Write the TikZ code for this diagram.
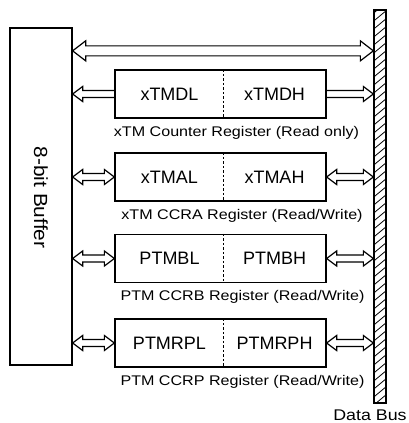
\documentclass[tikz,border=0pt]{standalone}
\usepackage{fontspec}
\setmainfont{Liberation Sans}
\newfontfamily\lblfont[FakeStretch=1.15]{Liberation Sans}
\newfontfamily\buffont[FakeStretch=1.1]{Liberation Sans}
\usetikzlibrary{calc}
% hollow block arrows: #1 left point, #2 right point, #3 half shaft, #4 half head, #5 head length
\newcommand\ArrBoth[5]{\draw[arrowline] let \p1=#1, \p2=#2 in
  (\x1,\y1) -- (\x1+#5pt,\y1+#4pt) -- (\x1+#5pt,\y1+#3pt) -- (\x2-#5pt,\y1+#3pt) -- (\x2-#5pt,\y1+#4pt)
  -- (\x2,\y1) -- (\x2-#5pt,\y1-#4pt) -- (\x2-#5pt,\y1-#3pt) -- (\x1+#5pt,\y1-#3pt) -- (\x1+#5pt,\y1-#4pt) -- cycle;}
\newcommand\ArrLeft[5]{\draw[arrowline] let \p1=#1, \p2=#2 in
  (\x2,\y1+#3pt) -- (\x1+#5pt,\y1+#3pt) -- (\x1+#5pt,\y1+#4pt) -- (\x1,\y1)
  -- (\x1+#5pt,\y1-#4pt) -- (\x1+#5pt,\y1-#3pt) -- (\x2,\y1-#3pt);}
\newcommand\ArrRight[5]{\draw[arrowline] let \p1=#1, \p2=#2 in
  (\x1,\y1+#3pt) -- (\x2-#5pt,\y1+#3pt) -- (\x2-#5pt,\y1+#4pt) -- (\x2,\y1)
  -- (\x2-#5pt,\y1-#4pt) -- (\x2-#5pt,\y1-#3pt) -- (\x1,\y1-#3pt);}
\begin{document}
\begin{tikzpicture}[x=1pt,y=-1pt,
  regbox/.style={draw, line width=1.3pt, minimum width=211pt, minimum height=48pt, inner sep=0pt},
  buffbox/.style={draw, line width=1.3pt, minimum width=62pt, minimum height=337pt, inner sep=0pt},
  busbox/.style={draw, line width=1.3pt, minimum width=12pt, minimum height=393pt, inner sep=0pt},
  regtxt/.style={inner sep=0pt, font=\fontsize{18}{20}\selectfont},
  lbl/.style={inner sep=0pt, anchor=base, font=\lblfont\fontsize{14}{16}\selectfont},
  divider/.style={line width=1.1pt, dash pattern=on 2.5pt off 2pt},
  arrowline/.style={line width=1.2pt, line join=miter},
  hatch/.style={line width=0.8pt}]
\useasboundingbox (0,0) rectangle (409,423);
\fill[white] (0,0) rectangle (409,423);

% buffer
\node[buffbox] (buf) at (41,196.5) {};
\node[inner sep=0pt, rotate=-90, font=\buffont\fontsize{19}{21}\selectfont] (buft) at (41,197.5) {8-bit Buffer};

% data bus
\node[busbox] (bus) at (380,206.5) {};
\begin{scope}
  \clip (bus.south west) rectangle (bus.north east);
  \foreach \i in {0,...,49} \draw[hatch] ($(bus.north west)+(0,8*\i+4)$) -- ++(12,-10);
\end{scope}
\node[inner sep=0pt, font=\lblfont\fontsize{15.5}{17}\selectfont] (busl) at (370,415) {Data Bus};

% registers
\node[regbox] (r1) at (220.5,94) {};
\node[regbox] (r2) at (220.5,177) {};
\node[regbox] (r3) at (220.5,258.5) {};
\node[regbox] (r4) at (220.5,343) {};
\foreach \r in {r1,r2,r3,r4}
  \draw[divider] ($(\r.north west)+(109,0)$) -- ($(\r.south west)+(109,0)$);

\node[regtxt] (r1l) at (169.5,94) {xTMDL};
\node[regtxt] (r1h) at (274.5,94) {xTMDH};
\node[regtxt] (r2l) at (169.5,177) {xTMAL};
\node[regtxt] (r2h) at (274.5,177) {xTMAH};
\node[regtxt] (r3l) at (169.5,258.5) {PTMBL};
\node[regtxt] (r3h) at (274.5,258.5) {PTMBH};
\node[regtxt] (r4l) at (169.5,343) {PTMRPL};
\node[regtxt] (r4h) at (274.5,343) {PTMRPH};

\node[lbl] (l1) at ($(r1.south)+(16,17.5)$) {xTM Counter Register (Read only)};
\node[lbl] (l2) at ($(r2.south)+(21.5,17.5)$) {xTM CCRA Register (Read/Write)};
\node[lbl] (l3) at ($(r3.south)+(22,17.5)$) {PTM CCRB Register (Read/Write)};
\node[lbl] (l4) at ($(r4.south)+(22,17.5)$) {PTM CCRP Register (Read/Write)};

% top bus arrow
\coordinate (t1) at ($(buf.north east)+(0,23.5)$);
\coordinate (t2) at (t1 -| bus.west);
\ArrBoth{(t1)}{(t2)}{5}{10}{13}

% row arrows
\ArrLeft{(buf.east |- r1.west)}{(r1.west)}{3.5}{7.5}{10}
\ArrRight{(r1.east)}{(r1.east -| bus.west)}{3.5}{7.5}{10}
\foreach \r in {r2,r3,r4}{
  \ArrBoth{(buf.east |- \r.west)}{(\r.west)}{3.5}{7.5}{10}
  \ArrBoth{(\r.east)}{(\r.east -| bus.west)}{3.5}{7.5}{10}
}
\end{tikzpicture}
\end{document}
